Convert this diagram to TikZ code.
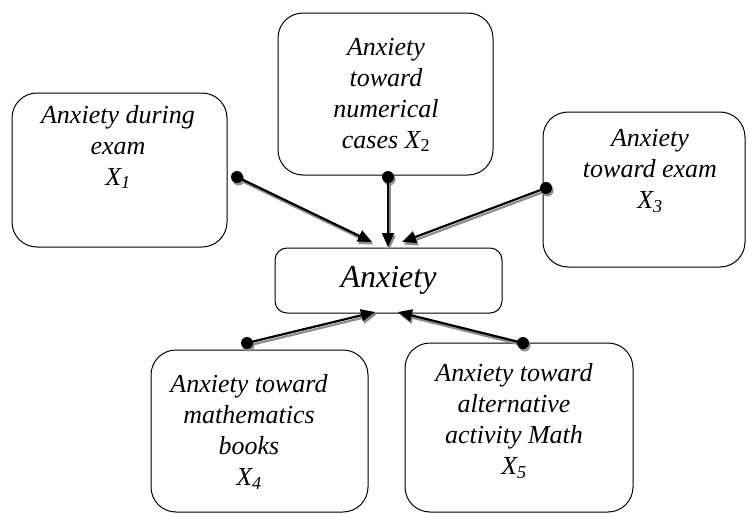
\documentclass[tikz,border=0pt]{standalone}
\usepackage{fontspec}
\setmainfont{Liberation Serif}
\usetikzlibrary{arrows.meta}

\tikzset{
    factor/.style={draw, line width=1pt, rounded corners=25pt, inner sep=0pt, outer sep=0pt},
    centre/.style={draw, line width=1pt, rounded corners=12pt, inner sep=0pt, outer sep=0pt},
    factortext/.style={align=center, inner sep=0pt, font=\itshape\fontsize{26}{31}\selectfont},
    link/.style={line width=2.2pt, -{Triangle[length=14pt,width=12pt]}},
    linkshadow/.style={link, black!45, transform canvas={shift={(1.5pt,-2.5pt)}}}
}

\begin{document}
\begin{tikzpicture}[x=1pt, y=-1pt]
    \useasboundingbox (0,0) rectangle (748,514);

    % Draw the boxes
    \node[factor, minimum width=215pt, minimum height=154pt] (x1) at (119.5,170) {};
    \node[factor, minimum width=215pt, minimum height=162pt] (x2) at (385.5,94) {};
    \node[factor, minimum width=202pt, minimum height=155pt] (x3) at (644,189.5) {};
    \node[factor, minimum width=217pt, minimum height=162pt] (x4) at (259.5,431) {};
    \node[factor, minimum width=228pt, minimum height=169pt] (x5) at (519,427.5) {};
    \node[centre, minimum width=227pt, minimum height=65pt] (anx) at (388.5,280.5) {};

    % Draw the texts
    \node[factortext] (x1text) at (118,147) {Anxiety during\\exam\\X\textsubscript{1}};
    \node[factortext] (x2text) at (386,95) {Anxiety\\toward\\numerical\\cases X\textsubscript{\upshape 2}};
    \node[factortext] (x3text) at (650,171) {Anxiety\\toward exam\\X\textsubscript{3}};
    \node[factortext] (x4text) at (249,432) {Anxiety toward\\mathematics\\books\\X\textsubscript{4}};
    \node[factortext] (x5text) at (514,421) {Anxiety toward\\alternative\\activity Math\\X\textsubscript{5}};
    \node[factortext, font=\itshape\fontsize{32}{36}\selectfont] (anxtext) at (anx.center) {Anxiety};

    % Start and end points of the arrows
    \coordinate (d1) at (237,177);
    \coordinate (d2) at (388,177);
    \coordinate (d3) at (546,188);
    \coordinate (d4) at (247,343);
    \coordinate (d5) at (523,343);
    \coordinate (a1) at (372,242);
    \coordinate (a2) at (388,247);
    \coordinate (a3) at (402,242);
    \coordinate (a4) at (375,312);
    \coordinate (a5) at (398,312);

    % Draw the arrows with their shadow
    \foreach \s/\e in {d1/a1, d2/a2, d3/a3, d4/a4, d5/a5} {
        \draw[linkshadow] (\s) -- (\e);
        \fill[black!45, transform canvas={shift={(1.5pt,-2.5pt)}}] (\s) circle (6pt);
        \draw[link] (\s) -- (\e);
        \fill (\s) circle (6pt);
    }
\end{tikzpicture}
\end{document}
